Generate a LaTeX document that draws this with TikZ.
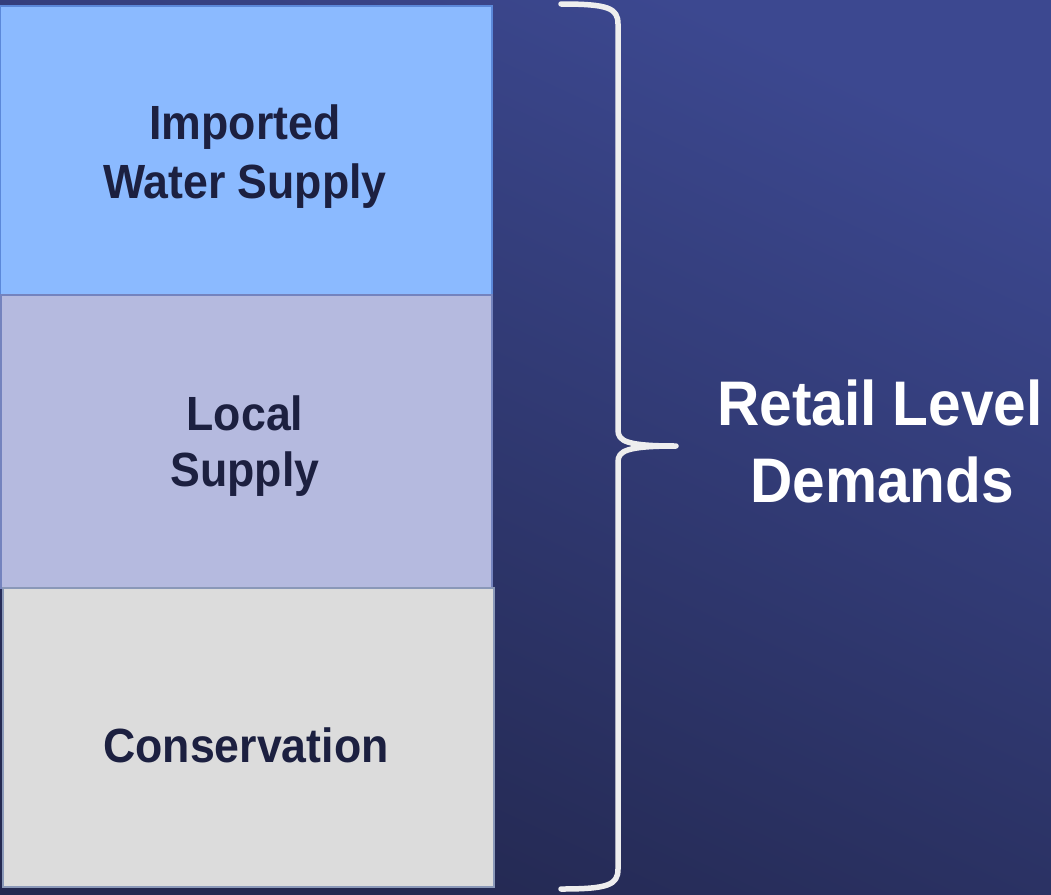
\documentclass[tikz,border=0pt]{standalone}
\usepackage{fontspec}
\setmainfont{Liberation Sans}[FakeStretch=0.93]
\definecolor{bgtop}{HTML}{3C4890}
\definecolor{bgbot}{HTML}{232850}
\definecolor{impfill}{HTML}{8BBAFF}
\definecolor{impline}{HTML}{5B88DA}
\definecolor{locfill}{HTML}{B5BADF}
\definecolor{locline}{HTML}{7483BE}
\definecolor{consfill}{HTML}{DCDCDC}
\definecolor{consline}{HTML}{8A98B8}
\definecolor{labtext}{HTML}{1C2040}
\definecolor{bracecol}{HTML}{EEEEEE}
\tikzset{
  blocktext/.style={anchor=base, inner sep=0pt, font=\bfseries\fontsize{48}{59}\selectfont, text=labtext},
  bigtext/.style={anchor=base, inner sep=0pt, font=\bfseries\fontsize{63}{77}\selectfont, text=white},
  blockbox/.style={line width=1.5pt},
  bracestroke/.style={draw=bracecol, line width=5.5pt, line cap=round, line join=round}
}
\begin{document}
\begin{tikzpicture}[x=1pt,y=-1pt]
\useasboundingbox (0,0) rectangle (1051,894);
\shade[top color=bgtop, bottom color=bgbot, shading angle=-25] (0,0) rectangle (1051,894);
% blocks
\draw[blockbox, fill=impfill, draw=impline] (0,6) rectangle (492,295);
\draw[blockbox, fill=locfill, draw=locline] (1,295) rectangle (492,588);
\draw[blockbox, fill=consfill, draw=consline] (3,588) rectangle (494,887);
% texts
\node[blocktext] (imp1) at (245,139) {Imported};
\node[blocktext] (imp2) at (245,198) {Water Supply};
\node[blocktext] (loc1) at (245,430) {Local};
\node[blocktext] (loc2) at (245,486) {Supply};
\node[blocktext] (cons) at (246,762) {Conservation};
\node[bigtext] (ret1) at (880,425) {Retail Level};
\node[bigtext] (ret2) at (882,502) {Demands};
% brace
\coordinate (btop) at (561,4);
\coordinate (btip) at (676,446);
\coordinate (bbot) at (561,889);
\draw[bracestroke] (btop) .. controls (608,4) and (618,8) .. (618,24)
  -- (618,430) .. controls (618,441) and (626,446) .. (btip)
  .. controls (626,446) and (618,451) .. (618,462)
  -- (618,869) .. controls (618,885) and (608,889) .. (bbot);
\end{tikzpicture}
\end{document}
